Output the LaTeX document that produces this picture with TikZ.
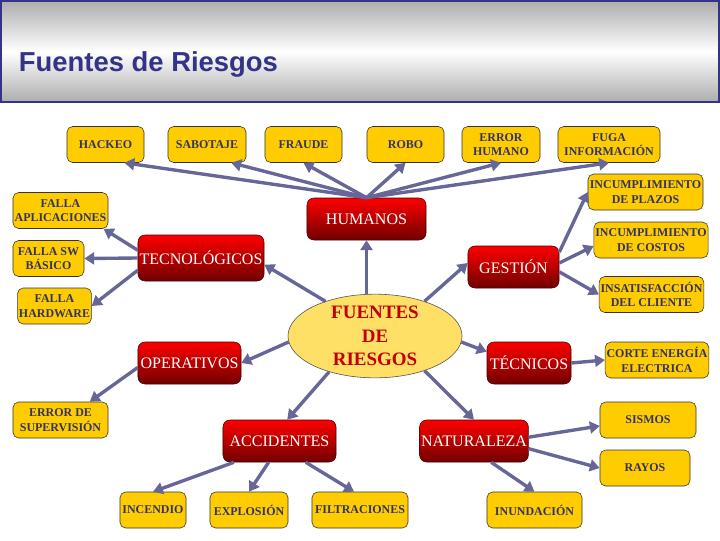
\documentclass[tikz,border=0pt]{standalone}
\usepackage{fontspec}
\setmainfont{Liberation Serif}
\newfontfamily\titulofont{Liberation Sans}
\usetikzlibrary{arrows.meta, shapes.geometric}

\definecolor{oro}{RGB}{255,204,0}
\definecolor{tinta}{RGB}{51,51,102}
\definecolor{rojo}{RGB}{255,0,0}
\definecolor{granate}{RGB}{112,0,0}
\definecolor{crema}{RGB}{255,224,102}
\definecolor{vino}{RGB}{192,0,0}
\definecolor{pizarra}{RGB}{102,102,153}
\definecolor{azul}{RGB}{51,51,136}

\begin{document}
\begin{tikzpicture}[x=0.025cm, y=-0.025cm,
    hoja/.style={draw=black!80, fill=oro, rounded corners=4pt, text=tinta,
        font=\fontsize{8.5}{10.5}\selectfont\bfseries, align=center,
        inner sep=1pt, minimum height=0.9cm},
    rama/.style={draw=granate!60!black, top color=rojo, bottom color=granate,
        rounded corners=5pt, text=white, font=\fontsize{11.4}{13}\selectfont,
        inner sep=1pt, minimum height=1.05cm},
    centro/.style={ellipse, draw=black!70, fill=crema, text=vino,
        font=\fontsize{13.5}{16.5}\selectfont\bfseries, align=center,
        inner sep=0pt, minimum width=4.35cm, minimum height=2cm},
    flecha/.style={draw=pizarra, line width=2.4pt, -{Triangle[length=7pt, width=8.5pt]}}]

    \useasboundingbox (0,0) rectangle (720,540);

    % barra del titulo
    \draw[draw=azul, line width=1.5pt, top color=black!32, bottom color=black!32, middle color=white]
        (1,1) rectangle (719,102);
    \node[anchor=west, text=azul, font=\titulofont\bfseries\fontsize{19.5}{22}\selectfont] (titulo) at (14,64) {Fuentes de Riesgos};

    % centro y ramas
    \node[centro] (fr) at (375,336) {FUENTES\\DE\\RIESGOS};
    \node[rama, minimum width=2.975cm] (hum) at (366.5,219) {HUMANOS};
    \node[rama, minimum width=3.15cm, minimum height=1.15cm] (tec) at (201,258) {TECNOLÓGICOS};
    \node[rama, minimum width=2.275cm] (ges) at (513.5,267) {GESTIÓN};
    \node[rama, minimum width=2.575cm] (ope) at (189.5,363) {OPERATIVOS};
    \node[rama, minimum width=2.1cm] (tecn) at (529,363) {TÉCNICOS};
    \node[rama, minimum width=2.825cm] (acc) at (279.5,441) {ACCIDENTES};
    \node[rama, minimum width=2.7cm] (nat) at (474,441) {NATURALEZA};

    % hojas
    \node[hoja, minimum width=1.925cm] (hackeo) at (105.5,144.5) {HACKEO};
    \node[hoja, minimum width=1.95cm] (sabotaje) at (207,144.5) {SABOTAJE};
    \node[hoja, minimum width=1.925cm] (fraude) at (303.5,144.5) {FRAUDE};
    \node[hoja, minimum width=1.925cm] (robo) at (405.5,144.5) {ROBO};
    \node[hoja, minimum width=1.95cm] (errhum) at (501,144.5) {ERROR\\HUMANO};
    \node[hoja, minimum width=2.55cm] (fuga) at (609,144.5) {FUGA\\INFORMACIÓN};
    \node[hoja, minimum width=2.875cm] (plazos) at (645.5,192) {INCUMPLIMIENTO\\DE PLAZOS};
    \node[hoja, minimum width=2.85cm] (costos) at (651,240) {INCUMPLIMIENTO\\DE COSTOS};
    \node[hoja, minimum width=2.575cm] (cliente) at (651.5,294.5) {INSATISFACCIÓN\\DEL CLIENTE};
    \node[hoja, minimum width=2.55cm] (corte) at (657,360) {CORTE ENERGÍA\\ELECTRICA};
    \node[hoja, minimum width=2.4cm] (sismos) at (648,420) {SISMOS};
    \node[hoja, minimum width=2.25cm] (rayos) at (645,468) {RAYOS};
    \node[hoja, minimum width=1.65cm] (incendio) at (153,510) {INCENDIO};
    \node[hoja, minimum width=1.95cm] (explosion) at (249,510) {EXPLOSIÓN};
    \node[hoja, minimum width=2.4cm] (filtra) at (360,510) {FILTRACIONES};
    \node[hoja, minimum width=2.375cm] (inunda) at (534.5,510) {INUNDACIÓN};
    \node[hoja, minimum width=2.375cm] (fallaapl) at (60.5,210.5) {FALLA\\APLICACIONES};
    \node[hoja, minimum width=1.775cm] (fallasw) at (48.5,258.5) {FALLA SW\\BÁSICO};
    \node[hoja, minimum width=1.825cm] (fallahw) at (54.5,306) {FALLA\\HARDWARE};
    \node[hoja, minimum width=2.375cm] (errsup) at (60.5,420) {ERROR DE\\SUPERVISIÓN};

    % flechas
    \path[every edge/.style=flecha]
    (hum.north) edge (hackeo.-44)
                edge (sabotaje.-37)
                edge (fraude.south)
                edge (robo.south)
                edge (errhum.south)
                edge (fuga.south)
    (tec.173) edge (fallaapl.-23)
    (tec.west) edge (fallasw.east)
    (tec.191) edge (fallahw.east)
    (ges.18) edge (plazos.west)
    (ges.5) edge (costos.186)
    (ges.-6) edge (cliente.west)
    (fr.145) edge (tec.-6)
    (hum.south |- fr.north) edge (hum.south)
    (fr.35) edge (ges.175)
    (fr.184) edge (ope.east)
    (fr.218) edge (acc.70)
    (fr.-4) edge (tecn.165)
    (fr.-35) edge (nat.north)
    (ope.185) edge (errsup.32)
    (tecn.east) edge (corte.west)
    (nat.4) edge (sismos.187)
    (nat.-8) edge (rayos.west)
    (nat.-51) edge (inunda.north)
    (acc.205) edge (incendio.north)
    (acc.243) edge (explosion.north)
    (acc.-39) edge (filtra.108);
\end{tikzpicture}
\end{document}
